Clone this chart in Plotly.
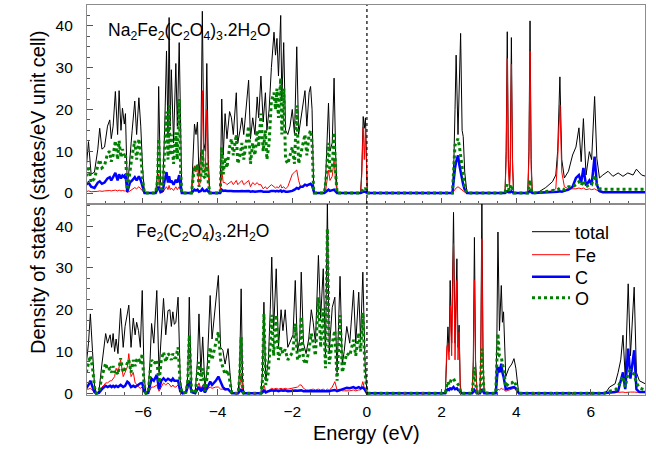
import plotly.graph_objects as go

# ---------------- Top panel: Na2Fe2(C2O4)3.2H2O ----------------
na_energy = [
    -7.52, -7.46, -7.39, -7.30, -7.21, -7.16, -7.10, -7.03, -6.95, -6.89, -6.85, -6.80, -6.74, -6.68, -6.64, -6.59, -6.55, -6.50, -6.47, -6.44, -6.42,
    -6.38, -6.35, -6.29, -6.22, -6.17, -6.11, -6.06, -6.01, -5.96,
    -5.66, -5.61, -5.58, -5.53, -5.47, -5.42, -5.37, -5.33, -5.30, -5.27, -5.24, -5.18, -5.12, -5.08, -5.03, -4.99, -4.96,
    -4.70, -4.67, -4.62, -4.58, -4.54, -4.50, -4.45, -4.41, -4.37, -4.33, -4.29, -4.25, -4.21,
    -3.93, -3.89, -3.85, -3.80, -3.75, -3.68, -3.63, -3.58, -3.50, -3.46, -3.40, -3.35, -3.30, -3.24, -3.17, -3.12, -3.06, -3.00,
    -2.94, -2.90, -2.84, -2.78, -2.72, -2.68, -2.62, -2.56, -2.49, -2.45, -2.41, -2.37, -2.31, -2.28, -2.23, -2.18, -2.12, -2.06, -2.00,
    -1.94, -1.88, -1.83, -1.78, -1.72, -1.66, -1.61, -1.55, -1.51, -1.47, -1.43, -1.41,
    -1.14, -1.10, -1.03, -0.99, -0.93, -0.88, -0.84, -0.80,
    -0.17, -0.14, -0.10, -0.07, -0.04, -0.01, 0.01,
    2.29, 2.33, 2.36, 2.39, 2.44, 2.48, 2.51, 2.55, 2.58, 2.62, 2.68,
    3.70, 3.73, 3.76, 3.79, 3.82, 3.84, 3.87, 3.90, 3.93,
    4.31, 4.34, 4.37, 4.40, 4.43,
    4.61, 4.79, 4.97, 5.06, 5.11, 5.17, 5.22, 5.29, 5.40, 5.51, 5.60, 5.68, 5.74, 5.80, 5.87, 5.96, 6.02, 6.10, 6.16, 6.23,
    6.32, 6.46, 6.59, 6.73, 6.86, 6.99, 7.13, 7.22, 7.36, 7.51,
]
na_total = [
    6, 12.3, 4.5, 5, 10.5, 15.5, 10.5, 11, 16, 17.5, 13, 16, 24.3, 14, 24.5, 15, 20.3, 16.5, 19, 8, 1.5,
    5, 9, 15, 22, 14, 22.8, 16, 6, 0,
    0, 5, 25.5, 2, 2, 15, 34, 14, 42, 16, 29.5, 12, 31, 16, 36, 10, 0,
    0, 8, 16.5, 14, 17, 4, 10, 43.5, 12, 10, 31, 8, 0,
    0, 22.5, 9, 19, 13, 19.5, 18, 14, 24, 12, 15, 18, 14, 20, 27, 13, 18, 14,
    23, 18, 28, 17, 24, 15, 20, 30, 38.5, 33, 37, 28, 42.5, 22, 36, 15, 14, 16, 20,
    14, 35, 14, 17, 20, 24.5, 16, 24, 25.5, 20, 2, 0,
    0, 5, 21.5, 10, 12, 27.5, 10, 0,
    0, 5, 18.3, 15.5, 18, 2, 0,
    0, 8, 20, 33, 14, 28, 38.2, 15, 13.5, 5, 0,
    0, 10, 38.6, 8, 2, 8, 37.2, 8, 0,
    0, 10, 41.2, 8, 0,
    0.3, 1.3, 2.7, 4.3, 10, 27.8, 8, 3.6, 5.2, 9.1, 11, 15.6, 7.5, 17.8, 4.3, 9.9, 8, 23.1, 8.3, 3.6,
    4.3, 5.2, 4.0, 4.8, 4.0, 4.8, 4.3, 5.7, 4.3, 3.9,
]
na_fe = [
    0.3, 0.5, 0.3, 0.3, 0.4, 0.5, 0.4, 0.5, 0.6, 0.6, 0.5, 0.6, 0.7, 0.5, 0.7, 0.5, 0.6, 0.5, 0.5, 0.3, 0.1,
    0.3, 0.5, 0.8, 1.3, 1.0, 1.5, 1.0, 0.4, 0,
    0, 1, 4.5, 0.3, 0.2, 1, 1.5, 0.8, 1.8, 0.8, 1.2, 0.6, 1.5, 0.8, 1.5, 0.5, 0,
    0, 3, 6.5, 5, 6.8, 1.5, 3, 24.5, 6, 5, 20, 4, 0,
    0, 5.5, 2.5, 2.5, 2, 2.5, 2.8, 2, 3, 2, 2.5, 3, 2, 2.5, 3, 1.5, 2.5, 2,
    2.5, 2, 2, 1, 1.5, 1, 1.5, 2, 1.5, 1.2, 1.5, 1.2, 2, 1.2, 1.5, 1, 1.5, 3, 4.5,
    5, 5.5, 3, 1.5, 1.5, 2, 1.5, 2, 2, 1.5, 0.2, 0,
    0, 1, 5.5, 3, 4, 8, 3, 0,
    0, 4, 15.8, 8, 15.8, 1.5, 0,
    0, 0.5, 0.8, 1.2, 1.5, 1.2, 1, 0.6, 0.4, 0.2, 0,
    0, 8, 32.2, 6, 1, 6, 30.8, 6, 0,
    0, 8, 34, 6, 0,
    0.1, 0.3, 0.5, 1.0, 8, 21.1, 5, 1.5, 1, 1, 1, 1.2, 1, 1.2, 0.8, 1, 0.8, 1, 0.6, 0.3,
    0.2, 0.2, 0.2, 0.2, 0.2, 0.2, 0.2, 0.2, 0.2, 0.2,
]
na_c = [
    2.0, 2.5, 1.5, 1.2, 2.5, 2.8, 2.2, 2.5, 3.5, 3.8, 3.0, 4.0, 4.8, 3.0, 4.5, 3.5, 4.2, 3.8, 4.5, 2.0, 0.3,
    1.5, 2.5, 3.0, 3.8, 3.0, 4.0, 3.0, 1.5, 0,
    0, 0.8, 1.5, 0.2, 0.5, 3, 5, 2.5, 4, 2.5, 3, 2, 3.2, 2.5, 4.3, 1.5, 0,
    0, 0.3, 0.8, 0.6, 0.8, 0.3, 0.5, 1, 0.5, 0.5, 0.8, 0.3, 0,
    0, 0.8, 0.5, 0.6, 0.5, 0.6, 0.5, 0.4, 0.5, 0.4, 0.4, 0.5, 0.4, 0.4, 0.5, 0.3, 0.4, 0.3,
    0.4, 0.3, 0.5, 0.3, 0.4, 0.3, 0.3, 0.5, 0.5, 0.4, 0.5, 0.4, 0.6, 0.3, 0.5, 0.3, 0.3, 0.4, 0.5,
    0.8, 1.2, 1, 1.5, 1.5, 2, 1.8, 2, 2.2, 1.8, 0.3, 0,
    0, 0.3, 0.8, 0.5, 0.6, 0.8, 0.4, 0,
    0, 0.2, 0.3, 0.3, 0.3, 0.1, 0,
    0, 4, 6, 7.5, 9, 6.5, 5, 3, 2, 0.8, 0,
    0, 0.2, 0.4, 0.2, 0.1, 0.2, 0.4, 0.2, 0,
    0, 0.3, 0.5, 0.2, 0,
    0.05, 0.1, 0.2, 0.3, 0.3, 0.4, 0.3, 0.5, 0.8, 1.5, 3.6, 4.3, 2.5, 6, 1.8, 3, 2, 8.7, 2, 0.5,
    0.2, 0.2, 0.2, 0.2, 0.2, 0.2, 0.2, 0.2, 0.2, 0.2,
]
na_o = [
    4, 6.5, 2.5, 3.5, 6.5, 8, 6, 6.5, 9.5, 10, 7.5, 9, 12.5, 8, 12.5, 8.5, 10.5, 9, 9.5, 4, 0.8,
    3, 5.5, 9, 12.5, 8, 13, 9.5, 3, 0,
    0, 3, 13, 1, 1, 9, 19.5, 8, 21, 9, 14, 7, 14.5, 8, 22.5, 5, 0,
    0, 3, 6.5, 5.5, 6.8, 1.5, 4, 10.5, 4, 3.5, 7.2, 2.5, 0,
    0, 11, 4.5, 8.5, 6, 11, 13, 9, 14, 7, 9, 12, 8, 12, 16, 7, 12, 9,
    15, 11, 19, 10, 15, 8, 12, 22, 24, 20, 25, 18, 27.5, 14, 25, 8, 7, 9, 11,
    7, 21, 7, 9, 12, 14, 9, 14, 15, 12, 1, 0,
    0, 3, 12, 5, 6, 14.5, 5, 0,
    0, 0.5, 1, 0.8, 1.2, 0.2, 0,
    0, 7, 11.5, 12, 13, 11, 9, 6, 4, 1.5, 0,
    0, 1.5, 2, 1.2, 0.5, 1.2, 2, 1, 0,
    0, 1.5, 3.1, 1, 0,
    0.1, 0.3, 0.5, 0.6, 0.8, 1.2, 1, 0.8, 1.5, 1.5, 2, 2.7, 1.8, 3, 1.5, 2, 2, 4.3, 2, 1,
    0.9, 0.9, 0.9, 0.9, 0.9, 0.9, 0.9, 0.9, 0.9, 0.9,
]

# ---------------- Bottom panel: Fe2(C2O4)3.2H2O ----------------
fe_energy = [
    -7.52, -7.46, -7.41, -7.35, -7.30, -7.25, -7.18,
    -7.10, -7.04, -7.00, -6.95, -6.88, -6.84, -6.80, -6.76, -6.72, -6.67, -6.60, -6.53, -6.48, -6.42, -6.38, -6.32, -6.26, -6.21, -6.17, -6.12, -6.07, -6.02, -5.97, -5.92,
    -5.86, -5.81, -5.77, -5.71, -5.63, -5.57, -5.51, -5.45, -5.39, -5.33, -5.28, -5.24, -5.20, -5.16, -5.12, -5.06, -5.00, -4.94,
    -4.85, -4.80, -4.76, -4.70, -4.60, -4.54, -4.50, -4.45, -4.40, -4.34,
    -4.28, -4.20, -4.15, -4.05, -3.98, -3.92, -3.86, -3.80, -3.72, -3.67, -3.62,
    -3.45, -3.41, -3.37, -3.33, -3.30,
    -2.84, -2.80, -2.76, -2.71, -2.64, -2.59, -2.55, -2.50, -2.43, -2.37, -2.30, -2.25, -2.19, -2.12, -2.04, -1.98, -1.92, -1.86, -1.80, -1.76, -1.70, -1.63, -1.56, -1.49, -1.44, -1.38,
    -1.30, -1.24, -1.17, -1.11, -1.06, -1.01, -0.93, -0.86, -0.80, -0.72, -0.66, -0.61, -0.54, -0.46, -0.36, -0.30, -0.22, -0.17, -0.11, -0.05, 0.00, 0.03,
    2.10, 2.14, 2.17, 2.20, 2.23, 2.27, 2.32, 2.36, 2.41, 2.44, 2.47, 2.50, 2.53,
    2.82, 2.85, 2.88, 2.91, 2.95, 3.03, 3.05, 3.08, 3.11, 3.14,
    3.45, 3.48, 3.51, 3.55, 3.60, 3.63, 3.66, 3.72, 3.80, 3.88, 3.94, 3.99, 4.04, 4.07,
    6.35, 6.41, 6.50, 6.65, 6.73, 6.80, 6.86, 6.92, 7.00, 7.06, 7.16, 7.22, 7.30, 7.42, 7.54,
]
fe_total = [
    7, 12, 19, 10, 2, 0, 0.5,
    7, 11, 14.3, 12, 14, 11, 14.3, 10, 13, 9.5, 20.3, 11, 16, 19, 21.1, 11, 18, 14, 17, 15, 11, 24.6, 4, 0,
    0.5, 8, 16.7, 12, 24.6, 5, 14, 22.7, 14, 19.8, 20, 16, 19.5, 16.5, 17, 23, 3, 0,
    0.5, 4, 23, 1, 0.2, 8, 19, 5, 13.5, 1,
    6, 23.4, 13, 23, 28.2, 11, 10.3, 7, 10.7, 5, 0,
    0, 6, 25, 3, 0,
    0, 5, 21.8, 3, 8, 20, 32.6, 15, 29.8, 11, 20, 15, 20, 11, 13, 14, 27, 10, 13, 29, 12, 9.5, 13, 20, 17, 12,
    33, 18, 29.8, 9, 46, 10, 20.5, 23, 5, 28, 7, 10, 16, 12, 24.7, 12, 24.2, 13, 29, 7, 0.3, 0,
    0, 12.7, 15.9, 10, 27, 12, 43.3, 12, 32.2, 11, 16.3, 2, 0,
    0, 8, 37.3, 8, 0.3, 0, 10, 45.5, 10, 0.3,
    0, 12, 38.6, 15, 25.8, 17, 19.5, 4, 6, 7, 8.3, 6, 2, 0,
    0, 0.3, 1.5, 2.3, 5, 8, 13.9, 4, 26.2, 9, 25.4, 5, 3, 2.5, 1.9,
]
fe_fe = [
    1, 1, 1.2, 0.8, 0.3, 0, 0.1,
    1.5, 2, 2.5, 2.5, 3, 3, 3.5, 4, 6, 5, 8, 4, 5, 6.3, 9.5, 4, 5, 2.5, 2.2, 1.5, 1.2, 1.5, 0.3, 0,
    0, 1, 1.5, 1.5, 2, 0.5, 1.5, 2.5, 2, 2.5, 2, 1.5, 2, 1.5, 1.5, 2, 0.3, 0,
    0, 1, 3, 0.2, 0, 1.5, 2.5, 1, 2, 0.2,
    1, 1.5, 1.2, 1.5, 1.5, 1, 1, 0.8, 1, 0.5, 0,
    0, 1.5, 4.7, 0.5, 0,
    0, 0.5, 2, 0.5, 0.5, 1, 1.2, 1, 1.2, 1, 1.2, 1, 1.2, 1, 1.2, 1.2, 1.5, 1.5, 2, 2, 1.2, 0.8, 0.8, 1, 1, 0.8,
    1, 0.8, 1, 0.7, 1, 0.7, 1.5, 2.8, 0.8, 1, 0.6, 0.6, 0.6, 0.6, 0.8, 0.6, 0.8, 0.8, 2.8, 0.5, 0, 0,
    0, 11, 12, 8, 21, 9, 35.8, 8, 27, 8, 14.7, 1.5, 0,
    0, 6, 27, 6, 0.1, 0, 8, 37, 8, 0.1,
    0, 0.5, 1, 0.8, 1.2, 1, 1, 0.5, 0.8, 1, 1.2, 0.8, 0.3, 0,
    0, 0, 0.1, 0.2, 0.3, 0.3, 0.3, 0.2, 0.3, 0.3, 0.3, 0.2, 0.2, 0.2, 0.1,
]
fe_c = [
    1.2, 2, 3, 1.5, 0.3, 0, 0.1,
    1, 1.5, 1.8, 1.5, 1.8, 1.5, 1.8, 1.5, 1.8, 1.5, 2, 1.5, 1.8, 2.8, 2.5, 1.5, 1.8, 1.5, 1.8, 2, 2.4, 2.5, 0.5, 0,
    0.1, 2, 3.5, 3, 4.4, 1, 3, 3.6, 3, 3.5, 3.3, 3, 3.5, 3, 3, 3, 0.5, 0,
    0.2, 1.5, 3, 0.3, 0, 1, 1.5, 0.5, 1.2, 0.2,
    1.5, 2.8, 2, 3, 4, 2.5, 1.5, 1, 1, 0.5, 0,
    0, 0.5, 1, 0.2, 0,
    0, 0.2, 0.7, 0.2, 0.5, 0.6, 0.7, 0.6, 0.7, 0.5, 0.7, 0.6, 0.7, 0.5, 0.6, 0.6, 0.7, 0.6, 0.6, 0.7, 0.5, 0.5, 0.5, 0.6, 0.6, 0.5,
    0.6, 0.5, 0.6, 0.5, 0.6, 0.5, 0.7, 0.8, 0.5, 0.8, 1, 1.2, 1.3, 1.2, 1.5, 1.2, 1.5, 1.2, 1.4, 0.8, 0, 0,
    0, 0.8, 1, 0.8, 1.2, 1, 1.5, 1, 1.2, 0.8, 0.8, 0.2, 0,
    0, 0.4, 0.8, 0.4, 0, 0, 0.5, 1, 0.5, 0,
    0, 3, 6.3, 5, 7.1, 5, 4, 1, 1.2, 1.3, 1.5, 1.2, 0.5, 0,
    0, 0.1, 0.2, 0.3, 0.6, 3, 5, 1, 10.7, 3.5, 10.3, 1, 0.3, 0.3, 0.3,
]
fe_o = [
    5, 7, 9, 6, 1.5, 0, 0.3,
    4, 6, 7.2, 5.5, 6, 5, 6.5, 5, 5.5, 4.5, 8.4, 5, 6, 7, 8, 5, 8, 6.5, 8, 8.5, 7, 9.5, 2, 0,
    0.3, 5, 8, 7, 8, 2.5, 8, 9.9, 7.5, 9.5, 9, 8, 9.5, 8.5, 8.5, 11, 1.5, 0,
    0.3, 3, 13.9, 0.5, 0.1, 5, 7.5, 3, 6, 0.5,
    4, 11, 8, 12, 14.7, 8, 6.5, 4.5, 5.5, 3, 0,
    0, 4, 13.5, 1.5, 0,
    0, 3, 19, 2, 5, 12, 18.8, 9, 18.8, 8, 11, 9.5, 10.5, 8, 9, 10, 16.7, 8, 9, 18.3, 8, 7, 10, 14.3, 12, 9,
    23, 11, 20.3, 6, 39.4, 7, 12, 15, 3, 18.7, 5, 7, 9.6, 9, 12.8, 9, 14.5, 10, 19.3, 5, 0.2, 0,
    0, 2, 2.8, 2, 2.5, 3.5, 3.5, 2.8, 2.5, 2, 1.8, 0.5, 0,
    0, 2.5, 6.3, 2.5, 0.1, 0, 4, 10.7, 4, 0.1,
    0, 6, 14.3, 9, 8.7, 7, 6, 1.5, 2.5, 2.5, 3, 2, 1, 0,
    0, 0.2, 0.5, 0.8, 1.5, 3, 4, 1.5, 5, 5.5, 4.5, 2.5, 1.3, 0.9, 0.8,
]

series_names = ["total", "Fe", "C", "O"]
series_colors = ["#000000", "#ff0000", "#0000ff", "#008000"]
series_widths = [1, 1, 2.5, 3]
series_dash = ["solid", "solid", "solid", "dot"]
legend_ids = ["legend", "legend2", "legend3", "legend4"]
legend_row_px = [232, 255, 277, 298]

top_label = "Na<sub>2</sub>Fe<sub>2</sub>(C<sub>2</sub>O<sub>4</sub>)<sub>3</sub>.2H<sub>2</sub>O"
bottom_label = "Fe<sub>2</sub>(C<sub>2</sub>O<sub>4</sub>)<sub>3</sub>.2H<sub>2</sub>O"
x_title = "Energy (eV)"
y_title = "Density of states (states/eV unit cell)"

for arr in (na_total, na_fe, na_c, na_o):
    assert len(arr) == len(na_energy), (len(arr), len(na_energy))
for arr in (fe_total, fe_fe, fe_c, fe_o):
    assert len(arr) == len(fe_energy), (len(arr), len(fe_energy))

FONT = "Liberation Sans, Arial, Helvetica, sans-serif"
W, H = 656, 450
ML, MR, MT, MB = 87, 11, 5, 55
PH = H - MT - MB
PW = W - ML - MR
split = (395 - 204) / PH

fig = go.Figure()
top_sets = [na_total, na_fe, na_c, na_o]
bot_sets = [fe_total, fe_fe, fe_c, fe_o]
for i in range(4):
    fig.add_trace(go.Scatter(
        x=na_energy, y=top_sets[i], mode="lines", name=series_names[i],
        line=dict(color=series_colors[i], width=series_widths[i], dash=series_dash[i]),
        xaxis="x", yaxis="y", showlegend=False))
for i in range(4):
    fig.add_trace(go.Scatter(
        x=fe_energy, y=bot_sets[i], mode="lines", name=series_names[i],
        line=dict(color=series_colors[i], width=series_widths[i], dash=series_dash[i]),
        xaxis="x2", yaxis="y2", showlegend=True, legend=legend_ids[i]))

axis_line = dict(showline=True, linecolor="#8c8c8c", linewidth=1.2, mirror=True,
                 ticks="inside", ticklen=6, tickwidth=1, tickcolor="#555555",
                 showgrid=False, zeroline=False, automargin=False,
                 tickfont=dict(family=FONT, size=15.5, color="#000000"))
xcommon = dict(axis_line, range=[-7.5, 7.45], tick0=0, dtick=2,
               minor=dict(dtick=0.5, ticks="inside", ticklen=3, tickcolor="#555555"))
ycommon = dict(axis_line, tick0=0, dtick=10, ticklabelstandoff=10,
               minor=dict(dtick=2.5, ticks="inside", ticklen=3, tickcolor="#555555"))

legend_style = dict(xanchor="left", yanchor="top", bgcolor="rgba(0,0,0,0)",
                    font=dict(family=FONT, size=18), itemwidth=38)
legends = {}
for lid, row in zip(legend_ids, legend_row_px):
    legends[lid] = dict(legend_style, x=(527 - ML) / PW, y=(395 - (row - 18.5)) / PH)

fig.update_layout(
    width=W, height=H,
    margin=dict(l=ML, r=MR, t=MT, b=MB),
    paper_bgcolor="white", plot_bgcolor="white",
    font=dict(family=FONT, color="#000000"),
    xaxis=dict(xcommon, anchor="y", showticklabels=False),
    yaxis=dict(ycommon, domain=[split, 1], range=[-2.63, 45], anchor="x"),
    xaxis2=dict(xcommon, anchor="y2", ticklabelstandoff=2),
    yaxis2=dict(ycommon, domain=[0, split], range=[-0.4, 45.3], anchor="x2"),
    shapes=[
        dict(type="line", xref="x", yref="y domain", x0=0, x1=0, y0=0, y1=1,
             line=dict(color="#000000", width=1.2, dash="dot")),
        dict(type="line", xref="x2", yref="y2 domain", x0=0, x1=0, y0=0, y1=1,
             line=dict(color="#000000", width=1.2, dash="dot")),
    ],
    annotations=[
        dict(text=top_label, xref="paper", yref="paper", x=(106 - ML) / PW, y=(395 - 32) / PH,
             xanchor="left", yanchor="middle", showarrow=False, font=dict(family=FONT, size=17.5)),
        dict(text=bottom_label, xref="paper", yref="paper", x=(134 - ML) / PW, y=(395 - 233) / PH,
             xanchor="left", yanchor="middle", showarrow=False, font=dict(family=FONT, size=17.5)),
        dict(text=x_title, xref="paper", yref="paper", x=(366 - ML) / PW, y=(395 - 433) / PH,
             xanchor="center", yanchor="middle", showarrow=False, font=dict(family=FONT, size=20)),
        dict(text=y_title, xref="paper", yref="paper", x=(38 - ML) / PW, y=(395 - 193) / PH,
             xanchor="center", yanchor="middle", textangle=-90, showarrow=False,
             font=dict(family=FONT, size=20)),
    ],
    **legends,
)

fig.write_html("out.html", config={"displayModeBar": False},
               post_script="document.body.style.margin='0';document.body.style.overflow='hidden';")
